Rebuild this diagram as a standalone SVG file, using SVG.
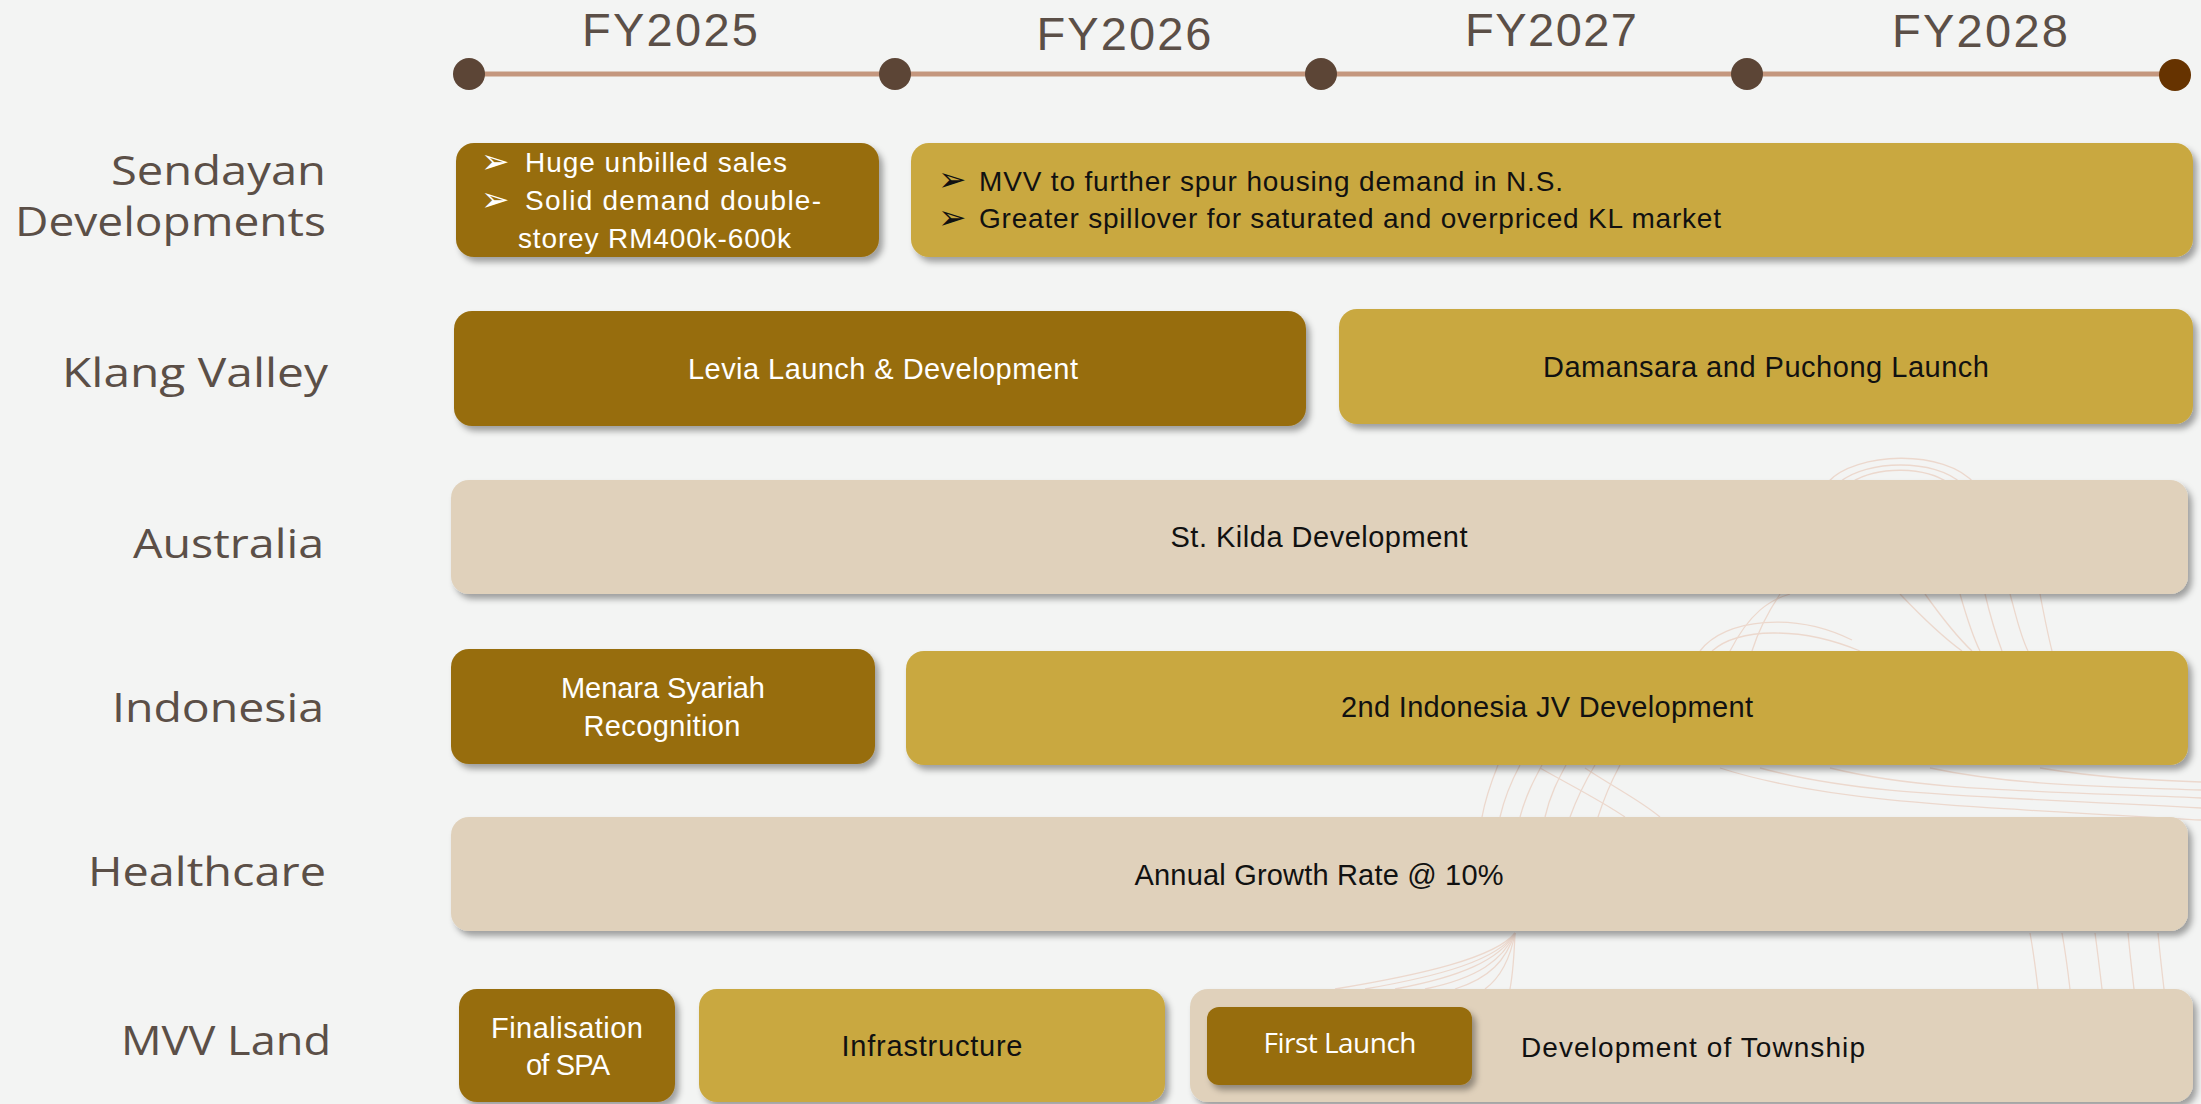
<svg xmlns="http://www.w3.org/2000/svg" width="2201" height="1104" viewBox="0 0 2201 1104">
  <defs>
    <filter id="shadow" x="-5%" y="-20%" width="110%" height="150%">
      <feDropShadow dx="4" dy="5" stdDeviation="3" flood-color="#000" flood-opacity="0.35"/>
    </filter>
    <style>
      .bg { fill: #f3f4f3; }
      .year { font-family: "Liberation Sans", Arial, sans-serif; font-size: 47px; fill: #5b4f47; text-anchor: middle; }
      .row { font-family: "Open Sans", "DejaVu Sans", sans-serif; font-size: 40px; fill: #5b4f47; text-anchor: end; }
      .dark { fill: #976d0e; filter: url(#shadow); }
      .gold { fill: #c9a83f; filter: url(#shadow); }
      .beige { fill: #e0d1bb; filter: url(#shadow); }
      .t { font-family: "Liberation Sans", Arial, sans-serif; font-size: 29px; text-anchor: middle; }
      .tl { font-family: "Liberation Sans", Arial, sans-serif; font-size: 28px; }
      .w { fill: #ffffff; }
      .k { fill: #111111; }
      .bul { font-family: "DejaVu Sans", sans-serif; font-size: 34px; }
      .deco { fill: none; stroke: #ecd8cd; stroke-width: 1.3; }
      .track { stroke: #c4977e; stroke-width: 5; }
      .dot { fill: #5c4536; }
    </style>
  </defs>

  <rect class="bg" x="0" y="0" width="2201" height="1104"/>

  <!-- faint decorative line art behind the lower-right rows -->
  <g id="decoration" class="deco">
    <path d="M1828,482 C1855,452 1945,448 1975,484"/>
    <path d="M1840,482 C1866,460 1935,458 1962,484"/>
    <path d="M1852,482 C1878,466 1925,466 1950,484"/>
    <path d="M1700,651 C1725,618 1795,612 1852,640"/>
    <path d="M1712,651 C1738,628 1800,626 1860,651"/>
    <path d="M1730,651 C1750,612 1770,600 1790,594"/>
    <path d="M1752,651 C1760,625 1772,606 1780,594"/>
    <path d="M1900,594 C1920,615 1940,635 1962,651"/>
    <path d="M1925,594 C1940,615 1955,635 1972,651"/>
    <path d="M1960,594 C1966,615 1972,635 1980,651"/>
    <path d="M1985,594 C1990,615 1996,635 2002,651"/>
    <path d="M2010,594 C2016,615 2020,635 2028,651"/>
    <path d="M2040,594 C2044,615 2048,635 2052,651"/>
    <path d="M1482,817 C1486,795 1492,780 1498,765"/>
    <path d="M1500,817 C1505,795 1512,780 1520,765"/>
    <path d="M1520,817 C1526,795 1534,780 1542,765"/>
    <path d="M1545,817 C1550,795 1558,780 1566,765"/>
    <path d="M1570,817 C1578,795 1586,780 1595,765"/>
    <path d="M1598,817 C1605,795 1612,780 1620,765"/>
    <path d="M1625,817 C1600,800 1570,785 1540,768"/>
    <path d="M1660,817 C1640,800 1610,785 1585,768"/>
    <path d="M1720,768 C1820,800 1930,805 2201,820"/>
    <path d="M1760,768 C1860,795 1960,795 2201,808"/>
    <path d="M1830,768 C1920,790 2010,790 2201,798"/>
    <path d="M1930,768 C2010,785 2090,786 2201,790"/>
    <path d="M2040,768 C2100,778 2150,780 2201,782"/>
    <path d="M1515,933 C1495,958 1420,975 1335,989"/>
    <path d="M1515,933 C1498,960 1440,976 1365,989"/>
    <path d="M1515,933 C1500,960 1460,977 1395,989"/>
    <path d="M1515,933 C1503,960 1478,978 1425,989"/>
    <path d="M1515,933 C1506,960 1490,978 1455,989"/>
    <path d="M1515,933 C1510,960 1500,978 1485,989"/>
    <path d="M1515,933 C1514,960 1512,978 1510,989"/>
    <path d="M2030,933 C2034,955 2036,972 2038,989"/>
    <path d="M2062,933 C2066,955 2068,972 2070,989"/>
    <path d="M2095,933 C2098,955 2100,972 2102,989"/>
    <path d="M2128,933 C2130,955 2132,972 2134,989"/>
    <path d="M2158,933 C2160,955 2162,972 2164,989"/>
  </g>

  <!-- timeline axis -->
  <g id="timeline">
    <line class="track" x1="469" y1="74" x2="2174" y2="74"/>
    <circle class="dot" cx="469" cy="74" r="16"/>
    <circle class="dot" cx="895" cy="74" r="16"/>
    <circle class="dot" cx="1321" cy="74" r="16"/>
    <circle class="dot" cx="1747" cy="74" r="16"/>
    <circle cx="2175" cy="75" r="16" fill="#663300"/>
    <text class="year" x="670" y="46" textLength="176">FY2025</text>
    <text class="year" x="1124" y="50" textLength="175">FY2026</text>
    <text class="year" x="1551" y="46" textLength="172">FY2027</text>
    <text class="year" x="1980" y="47" textLength="176">FY2028</text>
  </g>

  <!-- row headings -->
  <g id="row-labels">
    <text class="row" x="326" y="185" textLength="215" lengthAdjust="spacingAndGlyphs">Sendayan</text>
    <text class="row" x="326" y="236" textLength="311" lengthAdjust="spacingAndGlyphs">Developments</text>
    <text class="row" x="328" y="387" textLength="266" lengthAdjust="spacingAndGlyphs">Klang Valley</text>
    <text class="row" x="324" y="558" textLength="191" lengthAdjust="spacingAndGlyphs">Australia</text>
    <text class="row" x="324" y="722" textLength="212" lengthAdjust="spacingAndGlyphs">Indonesia</text>
    <text class="row" x="326" y="886" textLength="238" lengthAdjust="spacingAndGlyphs">Healthcare</text>
    <text class="row" x="331" y="1055" textLength="210" lengthAdjust="spacingAndGlyphs">MVV Land</text>
  </g>

  <!-- Sendayan Developments -->
  <g id="sendayan-fy2025">
    <rect class="dark" x="456" y="143" width="423" height="114" rx="18"/>
    <text class="bul w" x="481" y="173">➢</text>
    <text class="bul w" x="481" y="211">➢</text>
    <text class="tl w" x="525" y="172" textLength="262">Huge unbilled sales</text>
    <text class="tl w" x="525" y="210" textLength="296">Solid demand double-</text>
    <text class="tl w" x="518" y="248" textLength="273">storey RM400k-600k</text>
  </g>
  <g id="sendayan-fy2026-28">
    <rect class="gold" x="911" y="143" width="1282" height="114" rx="18"/>
    <text class="bul k" x="938" y="191">➢</text>
    <text class="bul k" x="938" y="229">➢</text>
    <text class="tl k" x="979" y="191" textLength="584">MVV to further spur housing demand in N.S.</text>
    <text class="tl k" x="979" y="228" textLength="742">Greater spillover for saturated and overpriced KL market</text>
  </g>

  <!-- Klang Valley -->
  <g id="levia">
    <rect class="dark" x="454" y="311" width="852" height="115" rx="18"/>
    <text class="t w" x="883" y="379" textLength="390">Levia Launch &amp; Development</text>
  </g>
  <g id="damansara-puchong">
    <rect class="gold" x="1339" y="309" width="854" height="115" rx="18"/>
    <text class="t k" x="1766" y="377" textLength="446">Damansara and Puchong Launch</text>
  </g>

  <!-- Australia -->
  <g id="st-kilda">
    <rect class="beige" x="451" y="480" width="1737" height="114" rx="18"/>
    <text class="t k" x="1319" y="547" textLength="297">St. Kilda Development</text>
  </g>

  <!-- Indonesia -->
  <g id="menara-syariah">
    <rect class="dark" x="451" y="649" width="424" height="115" rx="18"/>
    <text class="t w" x="663" y="698" textLength="204">Menara Syariah</text>
    <text class="t w" x="662" y="736" textLength="157">Recognition</text>
  </g>
  <g id="indonesia-jv">
    <rect class="gold" x="906" y="651" width="1282" height="114" rx="18"/>
    <text class="t k" x="1547" y="717" textLength="412">2nd Indonesia JV Development</text>
  </g>

  <!-- Healthcare -->
  <g id="healthcare-growth">
    <rect class="beige" x="451" y="817" width="1737" height="114" rx="18"/>
    <text class="t k" x="1319" y="885" textLength="369">Annual Growth Rate @ 10%</text>
  </g>

  <!-- MVV Land -->
  <g id="spa">
    <rect class="dark" x="459" y="989" width="216" height="113" rx="18"/>
    <text class="t w" x="567" y="1038" textLength="152">Finalisation</text>
    <text class="t w" x="568" y="1075" textLength="84">of SPA</text>
  </g>
  <g id="infrastructure">
    <rect class="gold" x="699" y="989" width="466" height="113" rx="18"/>
    <text class="t k" x="932" y="1056" textLength="181">Infrastructure</text>
  </g>
  <g id="township">
    <rect class="beige" x="1190" y="989" width="1003" height="113" rx="18"/>
    <text class="tl k" x="1521" y="1057" font-size="29" textLength="344">Development of Township</text>
  </g>
  <g id="first-launch">
    <rect class="dark" x="1207" y="1007" width="265" height="78" rx="12"/>
    <text x="1340" y="1053" font-family="Open Sans, sans-serif" font-size="28" fill="#ffffff" text-anchor="middle" textLength="153">First Launch</text>
  </g>
</svg>
